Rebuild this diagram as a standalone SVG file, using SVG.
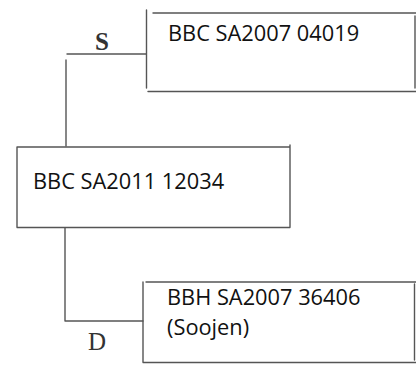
<svg xmlns="http://www.w3.org/2000/svg" width="416" height="365" viewBox="0 0 416 365">
<style>
.box{fill:none;stroke:#555;stroke-width:1.4;stroke-linecap:round}
.con{fill:none;stroke:#555;stroke-width:1.4;stroke-linecap:round;stroke-linejoin:round}
.t{font-family:"Open Sans","Liberation Sans",sans-serif;font-size:21.8px;fill:#111}
.lab{font-family:"Liberation Serif","DejaVu Serif",serif;font-size:25px;fill:#333}
</style>
<rect width="416" height="365" fill="#ffffff"/>
<g id="connectors">
  <path class="con" d="M146 54 H67 M66 60 V146"/>
  <text class="lab" x="95" y="50" style="font-weight:bold">S</text>
  <path class="con" d="M65 228 V321 H143"/>
  <text class="lab" x="88" y="350">D</text>
</g>
<g id="node-top">
  <path class="box" d="M146.5 10 V88 M153 13 H416 M148 91.5 H416 M415 16 V88"/>
  <text class="t" x="168" y="41">BBC SA2007 04019</text>
</g>
<g id="node-middle">
  <path class="box" d="M17 147 V227 M17 147 H290 M290 145 V227 M17 227.5 H290"/>
  <text class="t" x="33" y="189">BBC SA2011 12034</text>
</g>
<g id="node-bottom">
  <path class="box" d="M143 282 V362 M146 282 H416 M143 362.5 H416 M414.5 284 V360"/>
  <text class="t" x="167" y="305">BBH SA2007 36406</text>
  <text class="t" x="167" y="335">(Soojen)</text>
</g>
</svg>
